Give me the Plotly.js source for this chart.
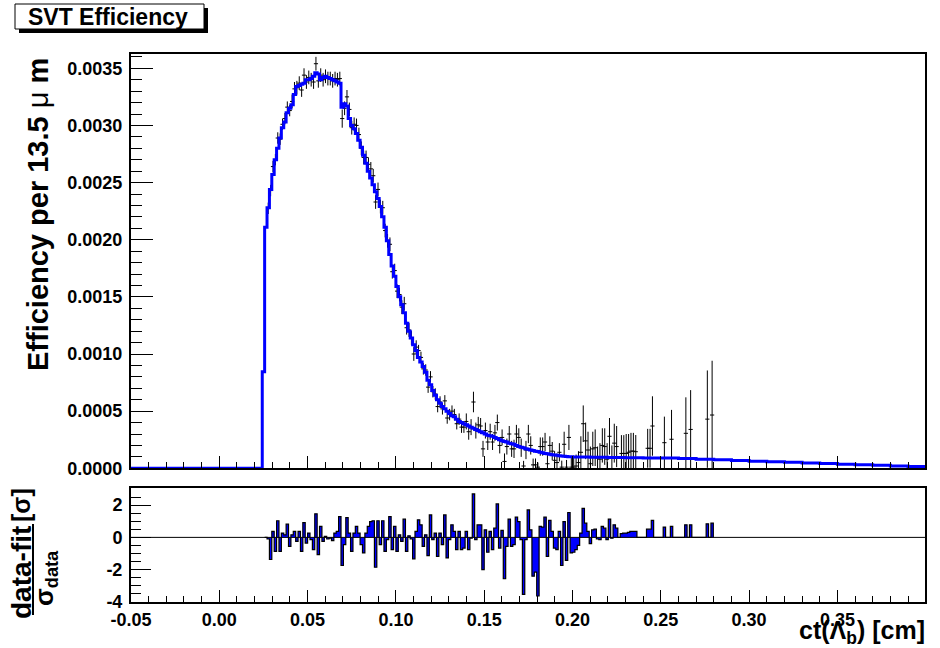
<!DOCTYPE html>
<html><head><meta charset="utf-8">
<script src="https://cdn.plot.ly/plotly-3.0.1.min.js"></script>
<style>body{margin:0;background:#fff}#chart{width:940px;height:648px}</style>
</head><body><div id="chart"></div>
<script>
// ---- histogram binning (13.5 um bins) ----
const X_MIN = -0.05, X_MAX = 0.40, N_BINS = 333;
const BIN_W = (X_MAX - X_MIN) / N_BINS;

// ---- fit curve: per-bin values for bins 55..185, then sparse tail ----
const fitFirstBin = 55;
const fitBinned = [
  0.000845, 0.00211, 0.00228, 0.00244, 0.00257, 0.0027, 0.0028, 0.00289, 0.00298, 0.00303,
  0.00311, 0.00315, 0.00318, 0.00327, 0.00334, 0.00335, 0.00336, 0.00337, 0.0034, 0.0034,
  0.00341, 0.00343, 0.00346, 0.00345, 0.0034, 0.00342, 0.00343, 0.00342, 0.00341, 0.0034,
  0.00339, 0.00338, 0.00337, 0.00316, 0.00319, 0.00317, 0.00306, 0.003, 0.00297, 0.00293,
  0.00287, 0.00281, 0.00274, 0.00267, 0.0026, 0.00254, 0.00248, 0.00242, 0.00236, 0.00229,
  0.0022, 0.00211, 0.00199, 0.00187, 0.00177, 0.00168, 0.00159, 0.0015, 0.00143, 0.00136,
  0.00127, 0.0012, 0.00114, 0.00108, 0.00103, 0.00097, 0.00093, 0.00089, 0.00084, 0.00077,
  0.00073, 0.00068, 0.00064, 0.0006, 0.00057, 0.00054, 0.00052, 0.0005, 0.00048, 0.00046,
  0.00045, 0.00043, 0.00041, 0.0004, 0.00039, 0.00038, 0.00037, 0.00036, 0.00035, 0.00034,
  0.00033, 0.00032, 0.00031, 0.0003, 0.00029, 0.000285, 0.00028, 0.00027, 0.00026, 0.00025,
  0.00024, 0.000235, 0.00023, 0.00022, 0.000215, 0.00021, 0.0002, 0.00019, 0.000185, 0.00018,
  0.000172, 0.000167, 0.00016, 0.000155, 0.00015, 0.000146, 0.00014, 0.000137, 0.00013, 0.000127,
  0.000122, 0.000119, 0.000116, 0.000113, 0.00011, 0.000108, 0.000105, 0.000103, 0.000101, 0.0001,
  0.000099
];
const fitTailX = [0.2014, 0.21, 0.22, 0.23, 0.24, 0.25, 0.26, 0.27, 0.28, 0.29,
                  0.30, 0.31, 0.32, 0.33, 0.34, 0.35, 0.36, 0.37, 0.38, 0.39];
const fitTailY = [0.000098, 0.000096, 0.000094, 0.000093, 0.000091, 0.000089, 0.000085, 0.00008, 0.000075, 0.000068,
                  0.000062, 0.000057, 0.000052, 0.000046, 0.000041, 0.000035, 0.00003, 0.000026, 0.000021, 0.000016];

// ---- data (efficiency per bin), bins 57..243; null = empty bin ----
const dataFirstBin = 57;
const dataVal = [
  0.002275, 0.00243, 0.00264, 0.0027, 0.00289, 0.00288, 0.00301, 0.00306, 0.00316, 0.00313,
  0.00321, 0.00332, 0.00333, 0.00337, 0.00331, 0.00344, 0.00338, 0.00342, 0.0034, 0.00338,
  0.00354, 0.00339, 0.00344, 0.0034, 0.00343, 0.00341, 0.00341, 0.00339, 0.00341, 0.0034,
  0.00341, 0.00306, 0.00315, 0.00325, 0.00314, 0.00298, 0.00301, 0.003, 0.00292, 0.0028,
  0.00272, 0.00272, 0.00266, 0.00262, 0.00256, 0.00233, 0.00244, 0.00229, 0.00228, 0.00208,
  0.00199, 0.00196, 0.00172, 0.00173, 0.00155, 0.00152, 0.00141, 0.00144, 0.00123, 0.00121,
  0.00114, 0.001, 0.00106, 0.00103, 0.00097, 0.00087, 0.00086, 0.00071, 0.0008, 0.00067,
  0.00065, 0.00054, 0.00058, 0.00052, 0.00059, 0.00044, 0.00047, 0.0005, 0.00047, 0.00039,
  0.00043, 0.00036, 0.00036, 0.00041, 0.00032, 0.00036, 0.00058, 0.00033, 0.00038, 0.00037,
  0.00017, 0.00033, 0.00023, 0.00032, 0.00023, 0.00031, 0.0004, 0.0002, 0.00027, 0.00006,
  0.00019, 0.0003, 0.00017, 0.00017, 0.0003, 0.00027, 0.00018, 0.00002, 0.00016, 0.0003,
  0.0002, 0.00003, 0.00003, 0.00001, 0.00019, 0.00019, 0.00023, 0.00004, 0.0002, 0.00015,
  0.00007, 0.00005, 0.00014, 0.00001, 0.00021, 0.00001, 0.00027, 0.00001, 0.00001, 0.00002,
  0.00005, 0.00014, 0.00039, 0.00024, 0.00016, 0.00004, 0.00017, 0.00018, 0.00009, 0.00008,
  0.0002, 0.00019, 0.00008, 0.00028, 0.0001, 0.00022, 0.00019, null, 0.00013, 0.00013,
  0.00013, 0.00014, 0.00015, 0.00015, 0.000145, null, null, null, null, 0.000175,
  0.000175, 0.00037, null, null, null, null, 0.000224, null, null, 0.000254,
  null, null, null, null, null, 0.000306, null, 0.00034, null, null,
  null, null, null, null, 0.00043, null, 0.000466
];
const dataErr = [
  5e-5, 5e-5, 5e-5, 5e-5, 5e-5, 5e-5, 5e-5, 5e-5, 5e-5, 5e-5,
  6e-5, 6e-5, 6e-5, 6e-5, 6e-5, 6e-5, 6e-5, 6e-5, 6e-5, 6e-5,
  6e-5, 6e-5, 6e-5, 6e-5, 6e-5, 6e-5, 6e-5, 6e-5, 6e-5, 6e-5,
  6e-5, 8e-5, 6e-5, 6e-5, 6e-5, 6e-5, 6e-5, 6e-5, 6e-5, 6e-5,
  6e-5, 6e-5, 6e-5, 6e-5, 6e-5, 6e-5, 6e-5, 6e-5, 6e-5, 6e-5,
  6e-5, 6e-5, 6e-5, 6e-5, 6e-5, 6e-5, 6e-5, 6e-5, 6e-5, 6e-5,
  6e-5, 6e-5, 6e-5, 5e-5, 5e-5, 5e-5, 5e-5, 5e-5, 5e-5, 5e-5,
  5e-5, 5e-5, 5e-5, 5e-5, 5e-5, 5e-5, 5e-5, 5e-5, 5e-5, 5e-5,
  5e-5, 5e-5, 5e-5, 7e-5, 7e-5, 7e-5, 9e-5, 7e-5, 7e-5, 7e-5,
  7e-5, 7e-5, 7e-5, 7e-5, 7e-5, 7e-5, 7e-5, 7e-5, 7e-5, 7e-5,
  7e-5, 7e-5, 7e-5, 8e-5, 8e-5, 8e-5, 8e-5, 4.5e-5, 8e-5, 8e-5,
  8e-5, 5.5e-5, 5.6e-5, 4e-5, 8e-5, 8e-5, 8e-5, 8e-5, 8e-5, 8e-5,
  8e-5, 8e-5, 8e-5, 5.7e-5, 11e-5, 6.3e-5, 11e-5, 9e-5, 10e-5, 10e-5,
  10e-5, 14e-5, 16e-5, 16e-5, 16e-5, 15e-5, 15e-5, 16e-5, 10e-5, 14e-5,
  15e-5, 16e-5, 14e-5, 16e-5, 10e-5, 17e-5, 18e-5, null, 16e-5, 16e-5,
  17e-5, 16e-5, 16e-5, 16e-5, 14.6e-5, null, null, null, null, 17e-5,
  17e-5, 26e-5, null, null, null, null, 22.8e-5, null, null, 25.7e-5,
  null, null, null, null, null, 31.5e-5, null, 34.4e-5, null, null,
  null, null, null, null, 42.6e-5, null, 47.5e-5
];

// ---- residuals (data-fit)/sigma, bins 57..243 ----
const residual = [
  -0.1, -1.37, 0.37, -0.86, 1.03, -0.86, 0.27, 0.16, 0.82, -0.55,
  0.16, 0.37, -0.25, 0.37, -0.86, 0.92, -0.35, 0.27, -0.14, -0.76,
  1.46, -1.07, 0.68, -0.25, 0.06, -0.1, -0.05, -0.2, 0.27, 0.37,
  1.29, -1.74, -0.45, 1.23, 0.27, -0.86, 0.27, 0.68, 0.27, -0.45,
  -0.96, 0.27, 0.68, 0.98, 1.03, -1.85, 1.03, -0.45, 1.03, -0.86,
  -0.14, 1.29, -0.76, 0.68, -0.86, 0.16, -0.25, 1.13, -0.86, 0.1,
  -0.1, -1.33, 0.37, 1.09, 0.78, -0.55, 0.16, -1.13, 1.39, -0.14,
  0.27, -1.17, 0.27, -0.45, 1.39, -1.27, -0.14, 0.78, 0.37, -0.76,
  0.37, -0.76, -0.66, 0.37, -0.76, -0.05, 2.69, -0.14, 0.78, 0.78,
  -1.99, 0.47, -0.92, 0.37, -0.76, 0.57, 2.07, -0.66, 0.43, -2.56,
  -0.55, 1.13, -0.55, -0.45, 1.25, 0.98, -0.14, -3.53, -0.14, 1.7,
  0.47, -2.4, -2.15, -3.63, 0.68, 0.64, 1.25, -1.17, 1.05, 0.37,
  -0.66, -0.76, 0.37, -1.74, 0.98, -1.42, 1.54, -0.96, -0.92, -0.76,
  -0.5, 0.27, 1.8, 0.88, 0.37, -0.39, 0.47, 0.51, -0.1, -0.14,
  0.68, 0.57, -0.14, 1.13, -0.05, 0.78, 0.57, 0, 0.23, 0.27,
  0.27, 0.31, 0.37, 0.37, 0.37, 0, 0, 0, 0, 0.51,
  0.51, 1.05, 0, 0, 0, 0, 0.64, 0, 0, 0.68,
  0, 0, 0, 0, 0, 0.78, 0, 0.78, 0, 0,
  0, 0, 0, 0, 0.84, 0, 0.88
];

const xTickVals = [-0.05, 0, 0.05, 0.10, 0.15, 0.20, 0.25, 0.30, 0.35];
const xTickText = ['-0.05', '0.00', '0.05', '0.10', '0.15', '0.20', '0.25', '0.30', '0.35'];
const rTickVals = [-4, -2, 0, 2];
const rTickText = ['-4', '-2', '0', '2'];

// ---- build traces ----
const edge = k => X_MIN + k * BIN_W;
const fitX = [X_MIN], fitY = [0];
fitBinned.forEach((v, i) => { fitX.push(edge(fitFirstBin + i)); fitY.push(v); });
fitTailX.forEach((x, i) => { fitX.push(x); fitY.push(fitTailY[i]); });
fitX.push(X_MAX); fitY.push(fitTailY[fitTailY.length - 1]);

const dX = dataVal.map((_, i) => edge(dataFirstBin + i) + BIN_W / 2);

const rX = [edge(dataFirstBin - 1)], rY = [0];
residual.forEach((v, i) => { rX.push(edge(dataFirstBin + i)); rY.push(v); });
rX.push(edge(dataFirstBin + residual.length)); rY.push(0);

const FONT = 'Liberation Sans, Arial, Helvetica, sans-serif';
const tf = {family: FONT, size: 18, color: 'black', weight: 'bold'};
const px2x = p => (p - 131) / 794;
const py2y = p => (602 - p) / 548;

const traces = [
  {x: dX, y: dataVal, type: 'scatter', mode: 'markers', xaxis: 'x', yaxis: 'y',
   marker: {symbol: 'line-ew-open', size: 3, color: 'black', line: {width: 1, color: 'black'}},
   error_y: {type: 'data', array: dataErr, visible: true, color: 'black', thickness: 1, width: 0},
   hoverinfo: 'skip', showlegend: false},
  {x: fitX, y: fitY, type: 'scatter', mode: 'lines', xaxis: 'x', yaxis: 'y',
   line: {shape: 'hv', color: '#0000ff', width: 3}, showlegend: false},
  {x: rX, y: rY, type: 'scatter', mode: 'lines', xaxis: 'x2', yaxis: 'y2',
   line: {shape: 'hv', color: 'black', width: 1.2}, fill: 'tozeroy', fillcolor: '#0000ff', showlegend: false}
];

const axCommon = {showline: true, linecolor: 'black', linewidth: 2, mirror: true,
  showgrid: false, zeroline: false, ticks: 'inside', tickcolor: 'black', tickwidth: 1, tickfont: tf};

const layout = {
  width: 940, height: 648,
  margin: {l: 131, r: 15, t: 54, b: 46},
  paper_bgcolor: 'white', plot_bgcolor: 'white',
  showlegend: false,
  xaxis: Object.assign({}, axCommon, {domain: [0, 1], anchor: 'y', range: [X_MIN, 0.3996],
    showticklabels: false, ticklen: 12, tickmode: 'array', tickvals: xTickVals,
    minor: {ticks: 'inside', ticklen: 6, dtick: 0.01, tick0: 0, tickcolor: 'black', showgrid: false}}),
  yaxis: Object.assign({}, axCommon, {domain: [0.244, 1], anchor: 'x', range: [0, 0.003625],
    ticklen: 22, dtick: 0.0005, tick0: 0, tickformat: '.4f', ticklabelstandoff: 3,
    minor: {ticks: 'inside', ticklen: 11, dtick: 0.0001, tick0: 0, tickcolor: 'black', showgrid: false}}),
  xaxis2: Object.assign({}, axCommon, {domain: [0, 1], anchor: 'y2', range: [X_MIN, 0.3996],
    ticklen: 12, tickmode: 'array', tickvals: xTickVals, ticktext: xTickText,
    minor: {ticks: 'inside', ticklen: 6, dtick: 0.01, tick0: 0, tickcolor: 'black', showgrid: false}}),
  yaxis2: Object.assign({}, axCommon, {domain: [0, 0.2075], anchor: 'x2', range: [-4, 3.04],
    ticklen: 20, tickmode: 'array', tickvals: rTickVals, ticktext: rTickText, ticklabelstandoff: 3,
    minor: {ticks: 'inside', ticklen: 10, dtick: 0.5, tick0: 0, tickcolor: 'black', showgrid: false}}),
  shapes: [
    {type: 'line', xref: 'x2', yref: 'y2', x0: X_MIN, x1: X_MAX, y0: 0, y1: 0,
     line: {color: 'black', width: 1}, layer: 'above'},
    {type: 'rect', xref: 'paper', yref: 'paper', x0: px2x(19), x1: px2x(208), y0: py2y(33), y1: py2y(8),
     fillcolor: 'black', line: {width: 0}},
    {type: 'rect', xref: 'paper', yref: 'paper', x0: px2x(15), x1: px2x(204), y0: py2y(29), y1: py2y(4),
     fillcolor: 'white', line: {width: 1, color: 'black'}},
    {type: 'line', xref: 'paper', yref: 'paper', x0: px2x(33), x1: px2x(33), y0: py2y(615), y1: py2y(524),
     line: {color: 'black', width: 2}}
  ],
  annotations: [
    {text: 'SVT Efficiency', xref: 'paper', yref: 'paper', x: px2x(108), y: py2y(16.5),
     xanchor: 'center', yanchor: 'middle', showarrow: false,
     font: {family: FONT, size: 23, color: 'black', weight: 'bold'}},
    {text: 'Efficiency per 13.5 <span style="font-weight:normal">μ</span> m', xref: 'paper', yref: 'paper',
     x: px2x(38), y: py2y(215),
     xanchor: 'center', yanchor: 'middle', textangle: -90, showarrow: false,
     font: {family: FONT, size: 29, color: 'black', weight: 'bold'}},
    {text: 'ct(Λ<sub>b</sub>) [cm]', xref: 'paper', yref: 'paper', x: 1.002, y: py2y(632),
     xanchor: 'right', yanchor: 'middle', showarrow: false,
     font: {family: FONT, size: 25, color: 'black', weight: 'bold'}},
    {text: 'data-fit', xref: 'paper', yref: 'paper', x: px2x(21), y: py2y(573),
     xanchor: 'center', yanchor: 'middle', textangle: -90, showarrow: false,
     font: {family: FONT, size: 28, color: 'black', weight: 'bold'}},
    {text: '[σ]', xref: 'paper', yref: 'paper', x: px2x(21), y: py2y(505),
     xanchor: 'center', yanchor: 'middle', textangle: -90, showarrow: false,
     font: {family: FONT, size: 25, color: 'black', weight: 'bold'}},
    {text: 'σ<sub>data</sub>', xref: 'paper', yref: 'paper', x: px2x(45), y: py2y(578),
     xanchor: 'center', yanchor: 'middle', textangle: -90, showarrow: false,
     font: {family: FONT, size: 26, color: 'black', weight: 'bold'}}
  ]
};

Plotly.newPlot('chart', traces, layout, {displayModeBar: false, staticPlot: true});
</script>
</body></html>
